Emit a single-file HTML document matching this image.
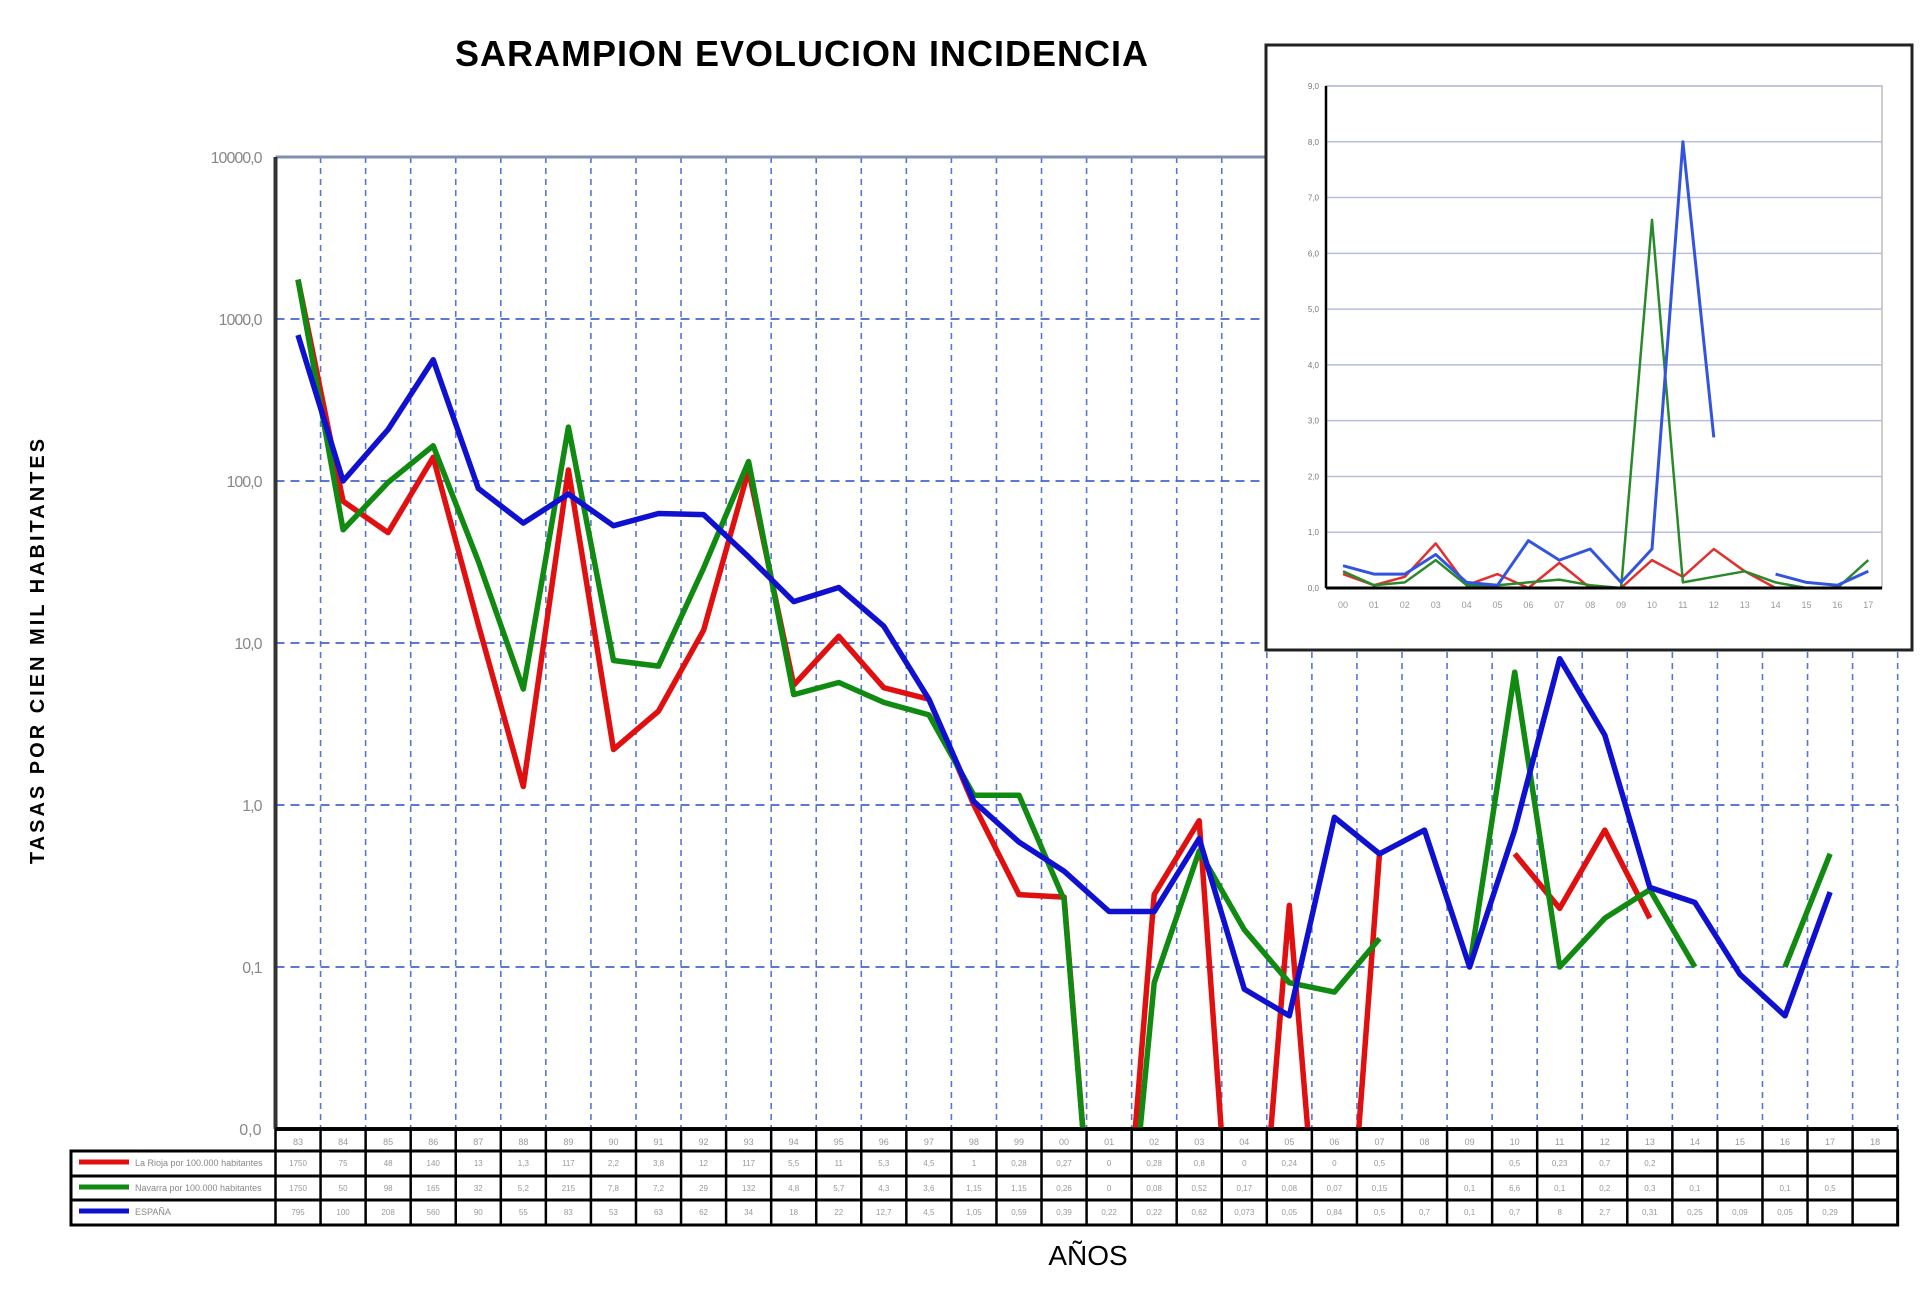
<!DOCTYPE html>
<html><head><meta charset="utf-8">
<style>
html,body{margin:0;padding:0;background:#fff;width:1920px;height:1301px;overflow:hidden;}
svg{display:block;font-family:"Liberation Sans",sans-serif;}
</style></head>
<body>
<svg id="chart" width="1920" height="1301" viewBox="0 0 1920 1301" xmlns="http://www.w3.org/2000/svg">
<text x="802" y="66" text-anchor="middle" font-size="36" font-weight="bold" letter-spacing="1">SARAMPION EVOLUCION INCIDENCIA</text>
<text transform="translate(44,650) rotate(-90)" text-anchor="middle" font-size="20" font-weight="bold" letter-spacing="3">TASAS POR CIEN MIL HABITANTES</text>
<text x="1088" y="1265" text-anchor="middle" font-size="28">AÑOS</text>
<g id="main"></g>
<g id="table"></g>
<g id="inset"></g>
</svg>
<script>
const years = ["83","84","85","86","87","88","89","90","91","92","93","94","95","96","97","98","99","00","01","02","03","04","05","06","07","08","09","10","11","12","13","14","15","16","17","18"];
const redSeries = [1750,75,48,140,13,1.3,117,2.2,3.8,12,117,5.5,11,5.3,4.5,1.0,0.28,0.27,0,0.28,0.8,0,0.24,0,0.5,null,null,0.5,0.23,0.7,0.2,null,null,null,null,null];
const greenSeries = [1750,50,98,165,32,5.2,215,7.8,7.2,29,132,4.8,5.7,4.3,3.6,1.15,1.15,0.26,0,0.08,0.52,0.17,0.08,0.07,0.15,null,0.1,6.6,0.1,0.2,0.3,0.1,null,0.1,0.5,null];
const blueSeries = [795,100,208,560,90,55,83,53,63,62,34,18,22,12.7,4.5,1.05,0.59,0.39,0.22,0.22,0.62,0.073,0.05,0.84,0.5,0.7,0.1,0.7,8.0,2.7,0.31,0.25,0.09,0.05,0.29,null];
const yTicks = [10000,1000,100,10,1,0.1];
const yTickLabels = ["10000,0","1000,0","100,0","10,0","1,0","0,1"];
const seriesNames = ["La Rioja por 100.000 habitantes","Navarra por 100.000 habitantes","ESPAÑA"];
const insetYears = ["00","01","02","03","04","05","06","07","08","09","10","11","12","13","14","15","16","17"];
const insetRed = [0.25,0.05,0.2,0.8,0.05,0.25,0,0.45,0,0,0.5,0.2,0.7,0.3,0,0,0,0];
const insetGreen = [0.3,0.05,0.1,0.5,0.05,0.05,0.1,0.15,0.05,0,6.6,0.1,0.2,0.3,0.1,0,0,0.5];
const insetBlue = [0.4,0.25,0.25,0.6,0.1,0.05,0.85,0.5,0.7,0.1,0.7,8.0,2.7,null,0.25,0.1,0.05,0.3];
const insetTicks = [0,1,2,3,4,5,6,7,8,9];

const NS="http://www.w3.org/2000/svg";
function mk(tag,attrs,parent){const e=document.createElementNS(NS,tag);for(const k in attrs)e.setAttribute(k,attrs[k]);parent.appendChild(e);return e;}
const colors=["#e01010","#118a11","#1010d0"];

const L=275.5,T=157,B=1129,colW=45.06,R=L+colW*years.length;
const decade=(B-T)/6;
function yScale(v){const lv=Math.log10(Math.max(v,1e-4));return T+(4-lv)*decade;}
function xScale(i){return L+colW*(i+0.5);}
const main=document.getElementById('main');
const defs=mk('defs',{},main);
const cp=mk('clipPath',{id:'plotclip'},defs);
mk('rect',{x:L,y:T-10,width:R-L,height:B-T+10},cp);
for(let i=1;i<=years.length;i++){
  const gl=mk('line',{x1:L+colW*i,x2:L+colW*i,y1:T,y2:B,stroke:'#5577cc','stroke-width':1.6,'stroke-dasharray':'6,5'},main);
  
  
}
yTicks.forEach((v,k)=>{
  const y=yScale(v);
  const gl=mk('line',{x1:L,x2:R,y1:y,y2:y,stroke:k===0?'#8090b0':'#4466cc','stroke-width':k===0?3:1.8,'stroke-dasharray':k===0?'':'9,6'},main);
  
  
  const t=mk('text',{x:L-14,y:y+6,'text-anchor':'end','font-size':16,fill:'#888','letter-spacing':'-1'},main);
  t.textContent=yTickLabels[k];
  
  
});
const z=mk('text',{x:L-14,y:B+6,'text-anchor':'end','font-size':16,fill:'#888'},main);z.textContent="0,0";


const ax=mk('line',{x1:L,x2:L,y1:T,y2:B,stroke:'#333','stroke-width':4},main);


const bx=mk('line',{x1:L,x2:R,y1:B,y2:B,stroke:'#111','stroke-width':4},main);



function drawSeries(arr,color,parent,xs,ys,w,name,clip){
  let d='',pen=false;
  arr.forEach((v,i)=>{
    if(v===null){pen=false;return;}
    d+=(pen?'L':'M')+xs(i).toFixed(1)+','+ys(v).toFixed(1)+' ';pen=true;
  });
  const p=mk('path',{d:d,fill:'none',stroke:color,'stroke-width':w,'stroke-linejoin':'round'},parent);
  if(clip)p.setAttribute('clip-path','url(#'+clip+')');
  
  
}
drawSeries(redSeries,colors[0],main,xScale,yScale,5.5,'rioja-line','plotclip');
drawSeries(greenSeries,colors[1],main,xScale,yScale,5.5,'navarra-line','plotclip');
drawSeries(blueSeries,colors[2],main,xScale,yScale,5.5,'spain-line','plotclip');

const tb=document.getElementById('table');
const rowY=[1129,1151,1176,1200,1225];
const TL=71;
for(let i=0;i<years.length;i++){
  const t=mk('text',{x:xScale(i),y:1145,'text-anchor':'middle','font-size':9,fill:'#999'},tb);
  t.textContent=years[i];
  
  
}
const allSeries=[redSeries,greenSeries,blueSeries];
allSeries.forEach((arr,r)=>{
  const y=rowY[r+1]+16;
  mk('line',{x1:TL+8,x2:TL+58,y1:y-5,y2:y-5,stroke:colors[r],'stroke-width':5},tb);
  const lt=mk('text',{x:TL+64,y:y-1,'font-size':9,fill:'#888'},tb);
  lt.textContent=seriesNames[r];
  
  
  arr.forEach((v,i)=>{
    if(v===null)return;
    const t=mk('text',{x:xScale(i),y:y-1,'text-anchor':'middle','font-size':8,fill:'#999'},tb);
    t.textContent=String(v).replace('.',',');
    
    
  });
});
mk('rect',{x:TL,y:rowY[1],width:R-TL,height:rowY[4]-rowY[1],fill:'none',stroke:'#000','stroke-width':3},tb);
for(let r=1;r<4;r++)mk('line',{x1:TL,x2:R,y1:rowY[r],y2:rowY[r],stroke:'#000','stroke-width':3},tb);
mk('line',{x1:L,x2:R,y1:rowY[0],y2:rowY[0],stroke:'#000','stroke-width':3},tb);
for(let i=0;i<=years.length;i++)mk('line',{x1:L+colW*i,x2:L+colW*i,y1:rowY[0],y2:rowY[4],stroke:'#000','stroke-width':2.5},tb);

const ins=document.getElementById('inset');
const box=mk('rect',{x:1266,y:45,width:646,height:605,fill:'#fff',stroke:'#222','stroke-width':3},ins);


const IL=1326,IR=1882,IT=86,IB=588;
function ixs(i){return 1343+30.9*i;}
function iys(v){return IB-(IB-IT)*v/9;}
mk('rect',{x:IL,y:IT,width:IR-IL,height:IB-IT,fill:'none',stroke:'#bbb','stroke-width':1.5},ins);
insetTicks.forEach(v=>{
  if(v>0)mk('line',{x1:IL,x2:IR,y1:iys(v),y2:iys(v),stroke:'#b8bedc','stroke-width':1.5},ins);
  const t=mk('text',{x:IL-7,y:iys(v)+3,'text-anchor':'end','font-size':8,fill:'#777'},ins);
  t.textContent=v.toFixed(1).replace('.',',');
  
  
});
insetYears.forEach((y,i)=>{
  const t=mk('text',{x:ixs(i),y:IB+20,'text-anchor':'middle','font-size':9,fill:'#999'},ins);
  t.textContent=y;
  
  
});
drawSeries(insetRed,'#e23030',ins,ixs,iys,2.5,'inset-rioja-line');
drawSeries(insetGreen,'#2a8a2a',ins,ixs,iys,2.5,'inset-navarra-line');
drawSeries(insetBlue,'#3355dd',ins,ixs,iys,3,'inset-spain-line');
mk('line',{x1:IL,x2:IL,y1:IT,y2:IB,stroke:'#000','stroke-width':2.5},ins);
mk('line',{x1:IL,x2:IR,y1:IB,y2:IB,stroke:'#000','stroke-width':3},ins);
</script>
</body></html>
